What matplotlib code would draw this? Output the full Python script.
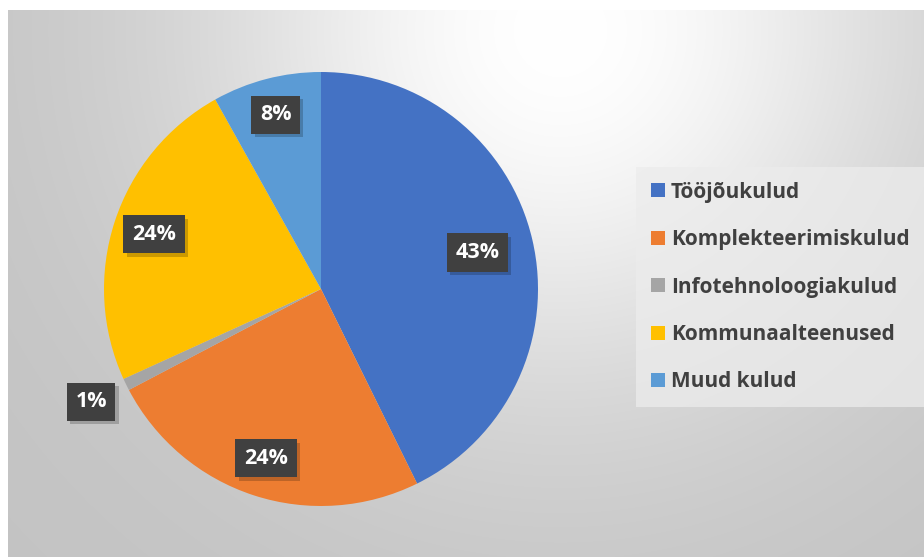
import numpy as np
import matplotlib
matplotlib.use("Agg")
import matplotlib.pyplot as plt
import matplotlib.patheffects as pe
from matplotlib.patches import Patch

categories = ["Tööjõukulud", "Komplekteerimiskulud", "Infotehnoloogiakulud",
              "Kommunaalteenused", "Muud kulud"]
values = [42.7, 24.6, 0.9, 23.7, 8.1]
labels = ["43%", "24%", "1%", "24%", "8%"]
colors = ["#4472C4", "#ED7D31", "#A5A5A5", "#FFC000", "#5B9BD5"]
label_dist = [0.74, 0.82, 1.18, 0.81, 0.83]

W, H = 924, 557
fig = plt.figure(figsize=(W / 100, H / 100), dpi=100)
fig.patch.set_facecolor("white")

# background radial gradient
bx0, by_top = 8, 10
bg = fig.add_axes([bx0 / W, 0, 1 - bx0 / W, (H - by_top) / H], zorder=0)
xs = np.arange(bx0, W)
ys = np.arange(by_top, H)
X, Y = np.meshgrid(xs, ys)
d = np.hypot(X - 560, Y - 30)
v = 0.765 + 0.235 * np.exp(-(d / 360.0) ** 2)
bg.imshow(np.dstack([v, v, v]), aspect="auto", interpolation="bilinear")
bg.set_axis_off()

# pie
cx, cy, R = 321, 289, 217
ax = fig.add_axes([(cx - R) / W, (H - cy - R) / H, 2 * R / W, 2 * R / H], zorder=1)
ax.set_facecolor("none")
wedges, _ = ax.pie(values, colors=colors, startangle=90, counterclock=False,
                   radius=1.0, wedgeprops=dict(linewidth=0))
ax.set_xlim(-1, 1)
ax.set_ylim(-1, 1)
ax.set_aspect("equal")
ax.set_axis_off()

for w, lab, dist in zip(wedges, labels, label_dist):
    ang = np.deg2rad((w.theta1 + w.theta2) / 2)
    x, y = dist * np.cos(ang), dist * np.sin(ang)
    t = ax.text(x, y, lab, ha="center", va="center", fontsize=15.5, family="Open Sans",
                fontweight="bold", color="white",
                bbox=dict(boxstyle="square,pad=0.4", facecolor="#404040",
                          edgecolor="none"), zorder=4)
    t.get_bbox_patch().set_path_effects(
        [pe.SimplePatchShadow(offset=(2.5, -2.5), shadow_rgbFace="black", alpha=0.2),
         pe.Normal()])

handles = [Patch(facecolor=c, edgecolor="none") for c in colors]
leg = fig.legend(handles, categories, loc="center left",
                 bbox_to_anchor=(636 / W, (H - 287) / H),
                 prop=dict(family="Open Sans", weight="bold", size=15),
                 labelcolor="#404040", frameon=True, fancybox=False,
                 handlelength=0.68, handleheight=0.68, handletextpad=0.3,
                 labelspacing=1.27, borderpad=0.7, borderaxespad=0)
fr = leg.get_frame()
fr.set_facecolor("#ececec")
fr.set_alpha(0.75)
fr.set_edgecolor("none")
leg.set_zorder(5)

fig.savefig("out.png", dpi=100)
